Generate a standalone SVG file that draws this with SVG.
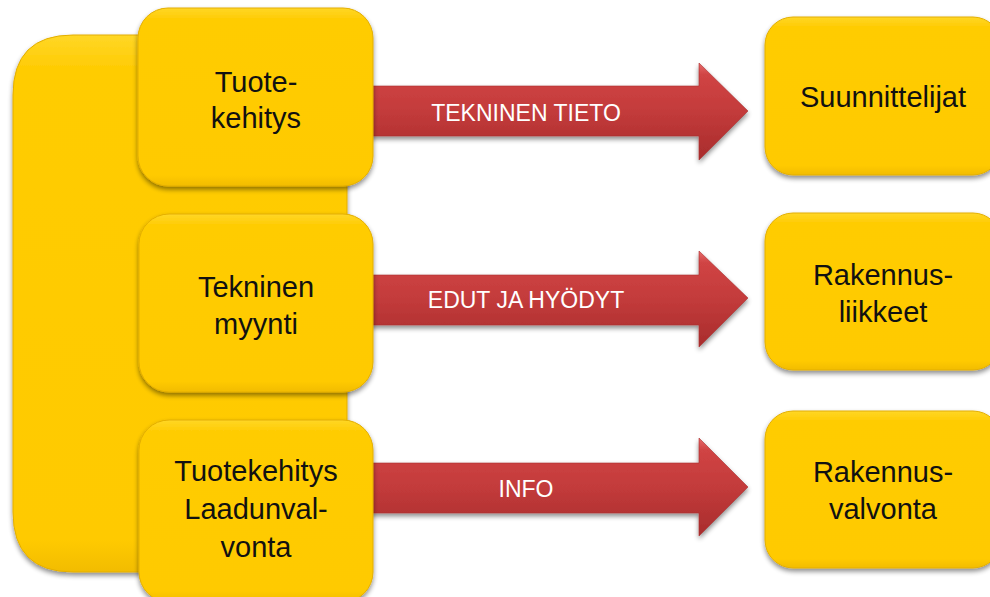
<svg xmlns="http://www.w3.org/2000/svg" width="990" height="597" viewBox="0 0 990 597">
<defs>
<linearGradient id="yg" x1="0" y1="0" x2="0" y2="1">
<stop offset="0" stop-color="#FFD726"/>
<stop offset="0.06" stop-color="#FFCC05"/>
<stop offset="0.94" stop-color="#FFCA00"/>
<stop offset="1" stop-color="#F2BC00"/>
</linearGradient>
<linearGradient id="rg" x1="0" y1="0" x2="0" y2="1">
<stop offset="0" stop-color="#E66A6A"/>
<stop offset="0.12" stop-color="#D04444"/>
<stop offset="0.5" stop-color="#C33B3B"/>
<stop offset="1" stop-color="#A82C2C"/>
</linearGradient>
<filter id="sh" x="-10%" y="-10%" width="120%" height="125%">
<feGaussianBlur in="SourceAlpha" stdDeviation="2.5"/>
<feOffset dx="0" dy="3" result="b"/>
<feComponentTransfer><feFuncA type="linear" slope="0.45"/></feComponentTransfer>
<feMerge><feMergeNode/><feMergeNode in="SourceGraphic"/></feMerge>
</filter>
</defs>
<style>
.box{fill:url(#yg);stroke:#E3AE00;stroke-width:1;filter:url(#sh)}
.arr{fill:url(#rg);stroke:#A83030;stroke-width:0.6;filter:url(#sh)}
.t{font-family:"Liberation Sans",Arial,sans-serif;font-size:29px;fill:#111;text-anchor:middle}
.l{font-family:"Liberation Sans",Arial,sans-serif;font-size:23px;fill:#fff;text-anchor:middle}
</style>
<g id="background">
<path class="box" d="M73 35 H347 V572 H73 Q13 572 13 512 V95 Q13 35 73 35 Z"/>
</g>
<g id="connectors">
<g id="arrow1">
<path class="arr" d="M360 86 H699 V63 L748 111 L699 160 V136 H360 Z"/>
<text class="l" x="526" y="121">TEKNINEN TIETO</text>
</g>
<g id="arrow2">
<path class="arr" d="M360 275 H699 V251 L748 298 L699 347 V325 H360 Z"/>
<text class="l" x="526" y="308">EDUT JA HYÖDYT</text>
</g>
<g id="arrow3">
<path class="arr" d="M360 463 H699 V438 L748 487 L699 536 V513 H360 Z"/>
<text class="l" x="526" y="497">INFO</text>
</g>
</g>
<g id="n-tuotekehitys">
<rect class="box" x="138" y="8" width="235" height="178" rx="30"/>
<text class="t" x="256" y="92">Tuote-</text>
<text class="t" x="256" y="128">kehitys</text>
</g>
<g id="n-tekninen-myynti">
<rect class="box" x="139" y="214" width="234" height="178" rx="30"/>
<text class="t" x="256" y="297">Tekninen</text>
<text class="t" x="256" y="334">myynti</text>
</g>
<g id="n-laadunvalvonta">
<rect class="box" x="139" y="420" width="234" height="182" rx="30"/>
<text class="t" x="256" y="481">Tuotekehitys</text>
<text class="t" x="256" y="519">Laadunval-</text>
<text class="t" x="256" y="557">vonta</text>
</g>
<g id="n-suunnittelijat">
<rect class="box" x="765" y="17" width="236" height="158" rx="28"/>
<text class="t" x="883" y="107">Suunnittelijat</text>
</g>
<g id="n-rakennusliikkeet">
<rect class="box" x="765" y="213" width="236" height="157" rx="28"/>
<text class="t" x="883" y="285">Rakennus-</text>
<text class="t" x="883" y="322">liikkeet</text>
</g>
<g id="n-rakennusvalvonta">
<rect class="box" x="765" y="411" width="236" height="157" rx="28"/>
<text class="t" x="883" y="482">Rakennus-</text>
<text class="t" x="883" y="519">valvonta</text>
</g>
</svg>
